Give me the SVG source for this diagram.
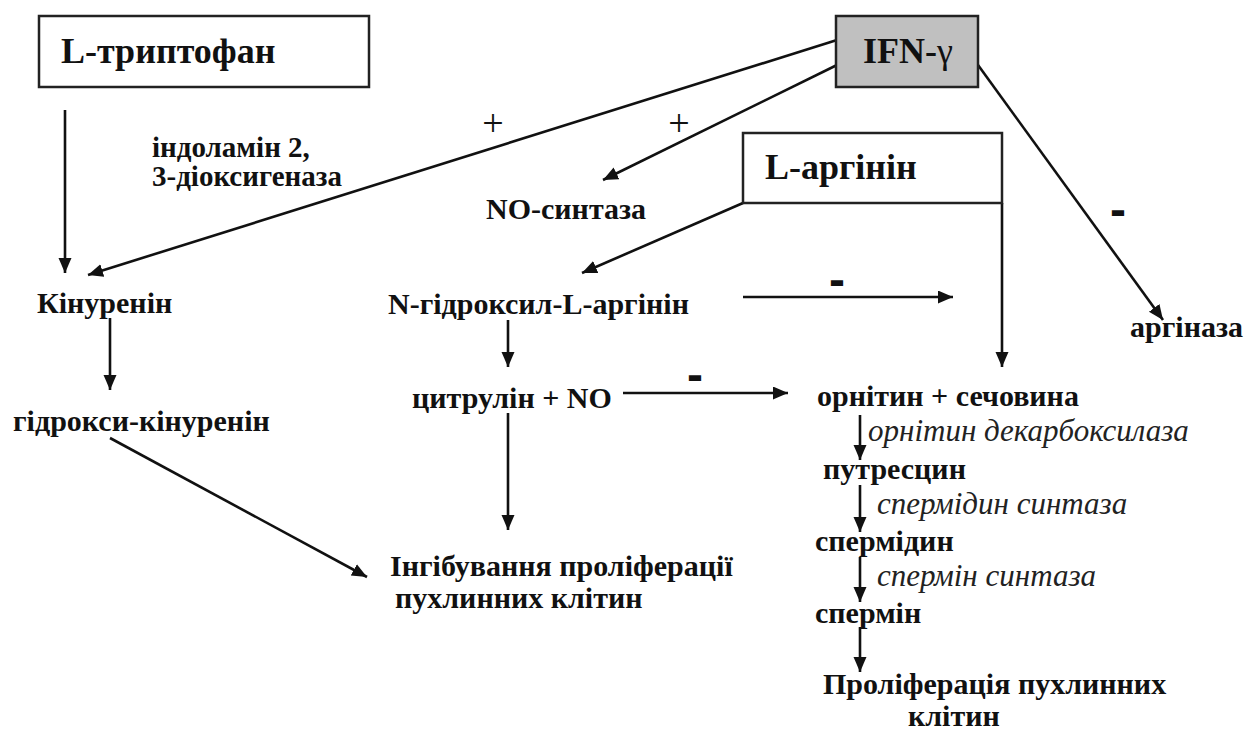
<svg xmlns="http://www.w3.org/2000/svg" width="1249" height="731" viewBox="0 0 1249 731">
<defs>
<marker id="ah" markerUnits="userSpaceOnUse" markerWidth="16" markerHeight="14" refX="15" refY="6.5" orient="auto">
<path d="M0,0 L15,6.5 L0,13 z" fill="#111"/>
</marker>
</defs>
<rect width="1249" height="731" fill="#fff"/>
<g id="connectors" stroke="#111" stroke-width="2.6" fill="none" marker-end="url(#ah)">
<line x1="65" y1="110" x2="65" y2="273"/>
<line x1="837" y1="40" x2="88" y2="275"/>
<line x1="837" y1="65" x2="603" y2="180"/>
<line x1="743" y1="203" x2="582" y2="273"/>
<polyline points="1002,203 1002,367"/>
<line x1="978" y1="65" x2="1163" y2="320"/>
<line x1="743" y1="297" x2="953" y2="297"/>
<line x1="110" y1="318" x2="110" y2="390"/>
<line x1="110" y1="438" x2="367" y2="577"/>
<line x1="508" y1="320" x2="508" y2="367"/>
<line x1="623" y1="393" x2="788" y2="393"/>
<line x1="508" y1="413" x2="508" y2="530"/>
<line x1="860" y1="415" x2="860" y2="460"/>
<line x1="860" y1="485" x2="860" y2="532"/>
<line x1="860" y1="557" x2="860" y2="602"/>
<line x1="860" y1="627" x2="860" y2="672"/>
</g>
<g id="signs" fill="#111" text-anchor="middle">
<text font-family="Liberation Serif" font-size="38" x="493" y="136">+</text>
<text font-family="Liberation Serif" font-size="38" x="679" y="136">+</text>
<text font-family="Liberation Sans" font-weight="bold" font-size="48" x="1118" y="226">-</text>
<text font-family="Liberation Sans" font-weight="bold" font-size="48" x="837" y="296">-</text>
<text font-family="Liberation Sans" font-weight="bold" font-size="48" x="695" y="391">-</text>
</g>
<g id="boxes" stroke="#222" stroke-width="2.5">
<rect id="tryptophan" x="39" y="16" width="330" height="71" fill="#fff"/>
<rect id="ifn" x="836" y="16" width="142" height="71" fill="#c0c0c0"/>
<rect id="arginine" x="743" y="133" width="259" height="70" fill="#fff"/>
</g>
<g id="labels" font-size="36" font-weight="bold" fill="#111">
<text font-family="Liberation Serif" x="61" y="63">L-триптофан</text>
<text font-family="Liberation Serif" x="863" y="63">IFN-<tspan font-weight="normal">γ</tspan></text>
<text font-family="Liberation Serif" x="765" y="179">L-аргінін</text>
</g>
<g id="ido" font-size="29" font-weight="bold" fill="#111">
<text font-family="Liberation Serif" x="152" y="157">індоламін 2,</text>
<text font-family="Liberation Serif" x="152" y="186">3-діоксигеназа</text>
</g>
<g id="nodes" font-size="30" font-weight="bold" fill="#111">
<text id="nos" font-family="Liberation Serif" x="486" y="219">NO-синтаза</text>
<text id="arginase" font-family="Liberation Serif" x="1130" y="337">аргіназа</text>
<text id="kynurenine" font-family="Liberation Serif" x="37" y="313">Кінуренін</text>
<text id="hydroxykyn" font-family="Liberation Serif" x="13" y="431">гідрокси-кінуренін</text>
<text id="nhydroxy" font-family="Liberation Serif" x="388" y="314">N-гідроксил-L-аргінін</text>
<text id="citrulline" font-family="Liberation Serif" x="412" y="408">цитрулін + NO</text>
<text font-family="Liberation Serif" x="390" y="576">Інгібування проліферації</text>
<text font-family="Liberation Serif" x="395" y="608">пухлинних клітин</text>
<text id="ornithine" font-family="Liberation Serif" x="817" y="406">орнітин + сечовина</text>
<text id="putrescine" font-family="Liberation Serif" x="823" y="479">путресцин</text>
<text id="spermidine" font-family="Liberation Serif" x="815" y="551">спермідин</text>
<text id="spermine" font-family="Liberation Serif" x="815" y="623">спермін</text>
<text font-family="Liberation Serif" x="823" y="694">Проліферація пухлинних</text>
<text font-family="Liberation Serif" x="908" y="726">клітин</text>
</g>
<g id="enzymes" font-size="31" font-style="italic" fill="#222">
<text font-family="Liberation Serif" x="868" y="441">орнітин декарбоксилаза</text>
<text font-family="Liberation Serif" x="877" y="514">спермідин синтаза</text>
<text font-family="Liberation Serif" x="877" y="586">спермін синтаза</text>
</g>
</svg>
